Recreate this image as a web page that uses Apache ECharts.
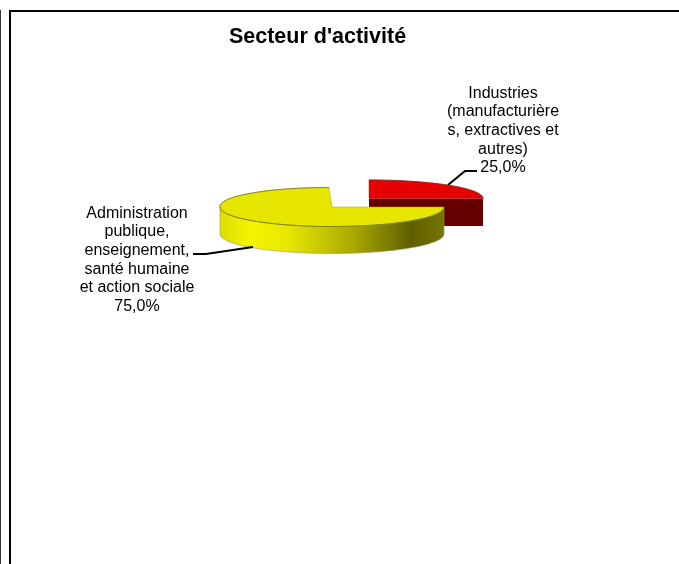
<!DOCTYPE html>
<html>
<head>
<meta charset="utf-8">
<style>
html, body { margin: 0; padding: 0; background: #fff; }
#chart { width: 679px; height: 564px; }
</style>
<script src="https://cdn.jsdelivr.net/npm/echarts@6/dist/echarts.min.js"></script>
</head>
<body>
<div id="chart"></div>
<script>
var chartTitle = "Secteur d'activité";
var categories = [
    'Industries\n(manufacturière\ns, extractives et\nautres)',
    'Administration\npublique,\nenseignement,\nsanté humaine\net action sociale'
];
var values = [25, 75];

var total = values[0] + values[1];
var fontName = '"Liberation Sans", Arial, sans-serif';

// one exploded slice per row: centre, radii, wall height, colours, label
var sliceStyles = [
    {
        cx: 369, cy: 198.5, rx: 114, ry: 18.5, depth: 27.5, lean: 0,
        top: '#e60000', wall: '#660000', edge: '#8a2020', cut: '#c02020',
        labelX: 503, labelY: 84,
        leader: [[448, 185], [465, 171], [477, 171]]
    },
    {
        cx: 332, cy: 207, rx: 112, ry: 19.5, depth: 27, lean: 3,
        top: '#e6e600', edge: '#77771a', cut: '#a8a820',
        wall: new echarts.graphic.LinearGradient(0, 0, 1, 0, [
            {offset: 0, color: '#dcdc00'},
            {offset: 0.14, color: '#f5f500'},
            {offset: 0.3, color: '#e8e800'},
            {offset: 0.6, color: '#a8a800'},
            {offset: 0.85, color: '#5f5f00'},
            {offset: 1, color: '#757500'}
        ]),
        labelX: 137, labelY: 204,
        leader: [[193, 254], [206, 254], [253, 247]]
    }
];

function arcPoints(s, from, to, dy) {
    // angles are clockwise from 12 o'clock
    var pts = [];
    var steps = 80;
    for (var i = 0; i <= steps; i++) {
        var a = from + (to - from) * i / steps;
        var back = Math.max(Math.cos(a), 0);   // back rim leans a little
        pts.push([s.cx + s.rx * Math.sin(a) - s.lean * back, s.cy - s.ry * Math.cos(a) + dy]);
    }
    return pts;
}

function renderSlice(params, api) {
    var idx = params.dataIndex;
    var s = sliceStyles[idx];
    var start = 0;
    for (var i = 0; i < idx; i++) start += values[i];
    var from = start / total * Math.PI * 2;
    var to = (start + api.value(0)) / total * Math.PI * 2;
    var children = [];

    // outer wall, only the part facing the viewer (3 o'clock to 9 o'clock)
    var wallFrom = Math.max(from, Math.PI / 2);
    var wallTo = Math.min(to, Math.PI * 1.5);
    if (wallTo > wallFrom) {
        var wallPts = arcPoints(s, wallFrom, wallTo, 0)
            .concat(arcPoints(s, wallTo, wallFrom, s.depth));
        children.push({
            type: 'polygon',
            shape: {points: wallPts},
            style: {fill: s.wall, stroke: '#999966', lineWidth: 0.6}
        });
    }
    // radial cut facing the viewer
    if (from < Math.PI / 2 && to >= Math.PI / 2) {
        children.push({
            type: 'polygon',
            shape: {
                points: [
                    [s.cx, s.cy],
                    [s.cx + s.rx, s.cy],
                    [s.cx + s.rx, s.cy + s.depth],
                    [s.cx, s.cy + s.depth]
                ]
            },
            style: {fill: s.wall}
        });
    }
    // top face, rim drawn on its own so the radial edges stay soft
    var rim = arcPoints(s, from, to, 0);
    children.push({
        type: 'polygon',
        shape: {points: [[s.cx, s.cy]].concat(rim)},
        style: {fill: s.top, stroke: s.cut, lineWidth: 0.5}
    });
    children.push({
        type: 'polyline',
        shape: {points: rim},
        style: {fill: null, stroke: s.edge, lineWidth: 0.8}
    });
    // leader line
    children.push({
        type: 'polyline',
        shape: {points: s.leader},
        style: {fill: null, stroke: '#000', lineWidth: 2}
    });
    // label
    var pct = (api.value(0) / total * 100).toFixed(1).replace('.', ',') + '%';
    children.push({
        type: 'text',
        x: s.labelX,
        y: s.labelY,
        style: {
            text: categories[idx] + '\n' + pct,
            fill: '#000',
            font: '16px ' + fontName,
            lineHeight: 18.6,
            align: 'center',
            verticalAlign: 'top'
        }
    });
    return {type: 'group', children: children};
}

var myChart = echarts.init(document.getElementById('chart'));
myChart.setOption({
    animation: false,
    backgroundColor: '#fff',
    graphic: [
        {type: 'rect', shape: {x: 9, y: 10, width: 670, height: 2}, style: {fill: '#000'}},
        {type: 'rect', shape: {x: 9, y: 10, width: 2, height: 554}, style: {fill: '#000'}},
        {type: 'rect', shape: {x: 0, y: 10, width: 1, height: 554}, style: {fill: '#333'}},
        {
            type: 'text',
            x: 317.5,
            y: 37,
            style: {
                text: chartTitle,
                fill: '#000',
                font: 'bold 21.5px ' + fontName,
                align: 'center',
                verticalAlign: 'middle'
            }
        }
    ],
    series: [{
        type: 'custom',
        coordinateSystem: 'none',
        renderItem: renderSlice,
        data: values.map(function (v) { return [v]; })
    }]
});
</script>
</body>
</html>
